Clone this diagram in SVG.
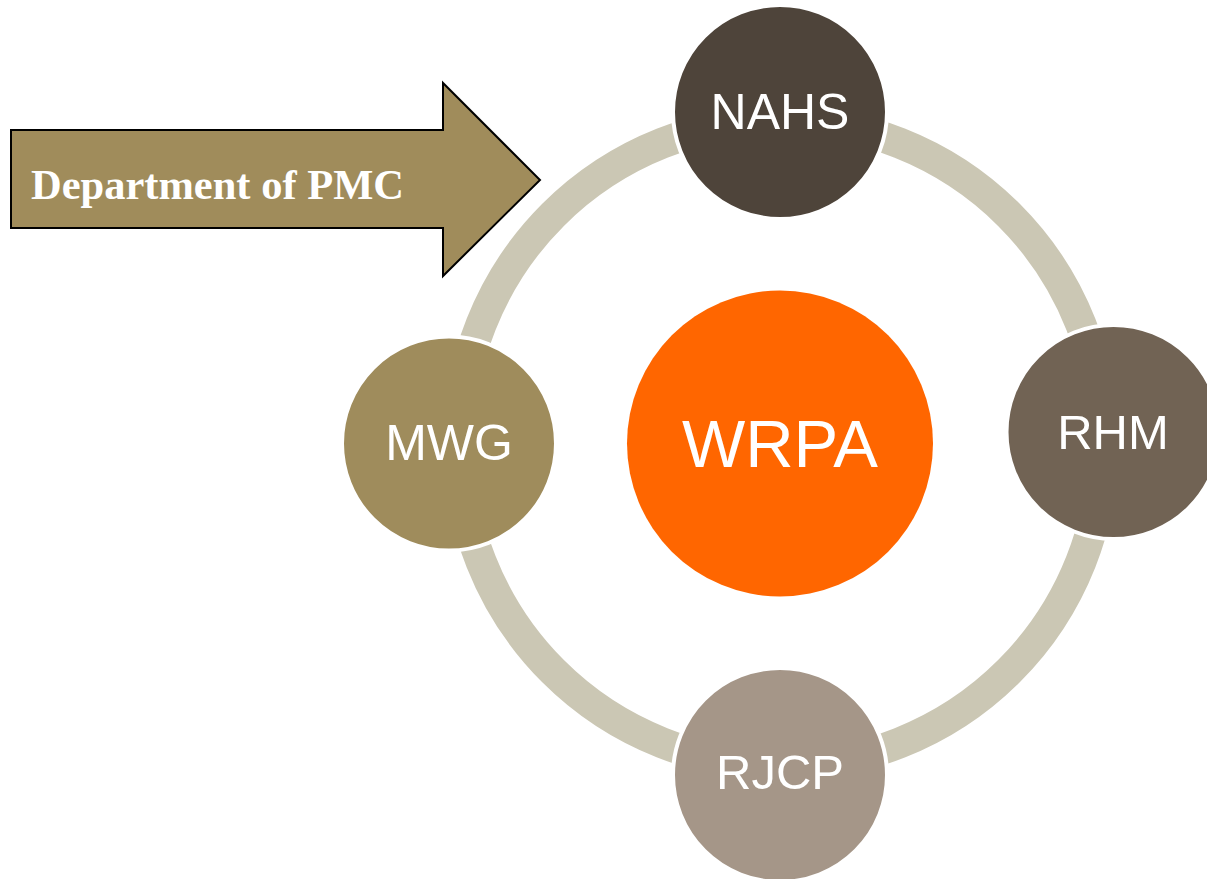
<svg xmlns="http://www.w3.org/2000/svg" width="1207" height="879" viewBox="0 0 1207 879">
<style>
.node{stroke:#FFFFFF;stroke-width:4}
.lbl{font-family:"Liberation Sans",Arial,sans-serif;fill:#FFFFFF;text-anchor:middle}
</style>
<rect width="1207" height="879" fill="#FFFFFF"/>
<g id="connectors">
<circle cx="781" cy="443" r="322.5" fill="none" stroke="#CBC7B4" stroke-width="31"/>
</g>
<g id="arrow">
<polygon points="11,130 443,130 443,83 540,180 443,276 443,228 11,228" fill="#A08C5B" stroke="#000000" stroke-width="2"/>
<text x="31" y="199" style="font-family:'Liberation Serif','Times New Roman',serif;font-weight:bold;font-size:42.5px;fill:#FFFFFF">Department of PMC</text>
</g>
<g id="WRPA">
<circle cx="780" cy="443.5" r="153" fill="#FF6600"/>
<text class="lbl" x="780" y="467" font-size="67">WRPA</text>
</g>
<g id="NAHS">
<circle class="node" cx="780" cy="112" r="107" fill="#4E443A"/>
<text class="lbl" x="780" y="129" font-size="50">NAHS</text>
</g>
<g id="RHM">
<circle class="node" cx="1113.5" cy="432" r="107" fill="#716354"/>
<text class="lbl" x="1113" y="449" font-size="49">RHM</text>
</g>
<g id="RJCP">
<circle class="node" cx="780" cy="775" r="107" fill="#A59688"/>
<text class="lbl" x="780" y="789" font-size="49">RJCP</text>
</g>
<g id="MWG">
<circle class="node" cx="449" cy="443.5" r="107" fill="#9F8C5C"/>
<text class="lbl" x="449" y="460" font-size="50">MWG</text>
</g>
</svg>
